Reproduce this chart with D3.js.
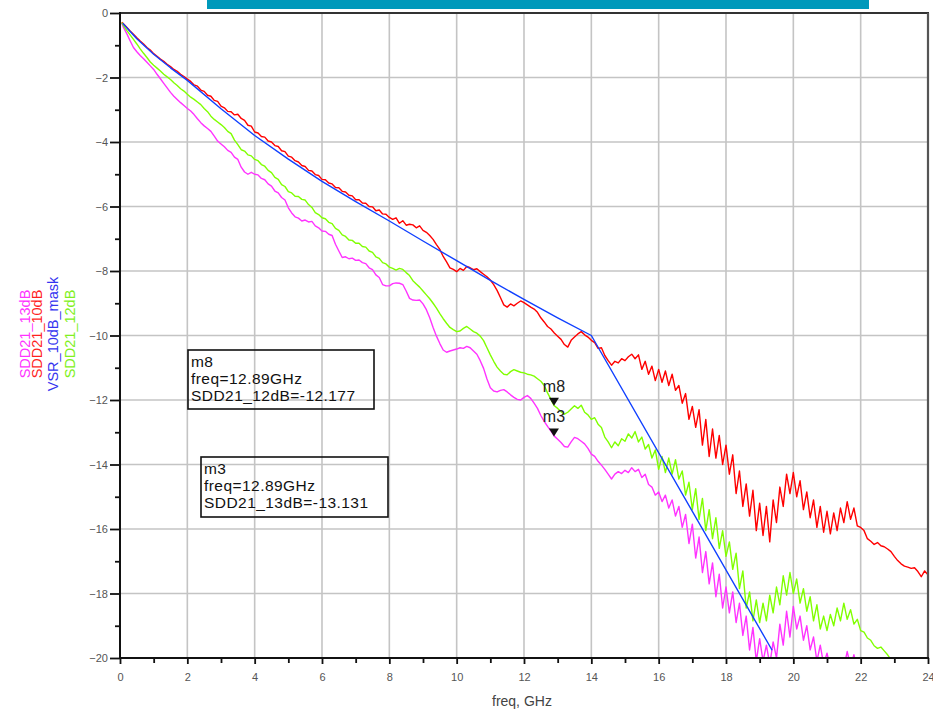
<!DOCTYPE html>
<html>
<head>
<meta charset="utf-8">
<script src="https://cdn.jsdelivr.net/npm/d3@7"></script>
<style>
  html, body { margin: 0; padding: 0; background: #fff; }
  svg { display: block; font-family: "Liberation Sans", Arial, sans-serif; }
</style>
</head>
<body>
<svg id="chart" width="933" height="715"></svg>
<script>
// Frequency sweep (GHz): first sample, then a 0.1 GHz grid up to 24 GHz
const FREQ = [0.05].concat(d3.range(1, 241).map(i => i / 10));

// SDD21_10dB channel (dB)
const SDD21_10dB = [-0.29,
  -0.33, -0.44, -0.56, -0.66, -0.77, -0.87, -0.96, -1.07, -1.15, -1.26,
  -1.34, -1.43, -1.50, -1.59, -1.66, -1.75, -1.81, -1.90, -1.97, -2.05,
  -2.12, -2.23, -2.27, -2.39, -2.43, -2.55, -2.58, -2.71, -2.74, -2.89,
  -2.94, -3.05, -3.06, -3.16, -3.14, -3.27, -3.33, -3.48, -3.51, -3.69,
  -3.72, -3.83, -3.85, -3.97, -4.00, -4.11, -4.14, -4.27, -4.30, -4.44,
  -4.47, -4.58, -4.62, -4.73, -4.76, -4.88, -4.90, -5.01, -5.04, -5.16,
  -5.17, -5.27, -5.30, -5.41, -5.42, -5.53, -5.55, -5.65, -5.67, -5.79,
  -5.79, -5.89, -5.90, -6.00, -6.01, -6.13, -6.11, -6.23, -6.24, -6.34,
  -6.40, -6.35, -6.52, -6.44, -6.58, -6.55, -6.57, -6.66, -6.60, -6.74,
  -6.80, -6.90, -7.02, -7.18, -7.33, -7.55, -7.72, -7.90, -7.95, -8.02,
  -7.92, -7.98, -7.86, -7.90, -7.96, -7.93, -8.02, -8.10, -8.18, -8.28,
  -8.42, -8.60, -8.82, -9.05, -9.12, -9.02, -9.08, -9.00, -8.93, -8.98,
  -9.05, -9.12, -9.18, -9.28, -9.45, -9.58, -9.72, -9.80, -9.92, -10.02,
  -10.12, -10.28, -10.36, -10.15, -10.05, -9.95, -9.88, -9.98, -10.05, -10.15,
  -10.22, -10.40, -10.38, -10.62, -10.78, -10.92, -10.80, -10.85, -10.72, -10.78,
  -10.66, -10.58, -10.72, -10.60, -11.05, -10.80, -11.20, -10.95, -11.40, -11.05,
  -11.45, -11.10, -11.55, -11.20, -11.70, -11.55, -12.10, -11.80, -12.60, -12.20,
  -12.85, -12.30, -13.40, -12.60, -13.75, -12.90, -13.80, -13.10, -14.00, -13.40,
  -14.30, -13.70, -14.90, -14.20, -15.30, -14.60, -15.60, -14.80, -16.05, -15.20,
  -16.20, -15.30, -16.40, -15.10, -15.80, -14.70, -15.30, -14.30, -14.90, -14.25,
  -15.00, -14.50, -15.40, -14.85, -15.65, -15.10, -15.95, -15.30, -16.10, -15.45,
  -16.15, -15.50, -16.05, -15.35, -15.80, -15.15, -15.70, -15.35, -15.90, -15.95,
  -16.05, -16.30, -16.38, -16.48, -16.42, -16.52, -16.55, -16.62, -16.70, -16.85,
  -16.98, -17.08, -17.15, -17.18, -17.22, -17.20, -17.32, -17.48, -17.30, -17.42
];

// SDD21_12dB channel (dB); null where the trace is below the plotted range
const SDD21_12dB = [-0.30,
  -0.38, -0.54, -0.68, -0.82, -0.96, -1.11, -1.25, -1.38, -1.52, -1.62,
  -1.71, -1.80, -1.90, -1.98, -2.06, -2.16, -2.25, -2.35, -2.42, -2.52,
  -2.61, -2.68, -2.76, -2.84, -2.96, -3.06, -3.20, -3.30, -3.38, -3.46,
  -3.55, -3.67, -3.74, -3.94, -4.08, -4.24, -4.28, -4.40, -4.43, -4.54,
  -4.58, -4.70, -4.75, -4.88, -4.95, -5.10, -5.16, -5.32, -5.38, -5.54,
  -5.58, -5.68, -5.69, -5.78, -5.80, -5.94, -6.03, -6.19, -6.25, -6.35,
  -6.38, -6.49, -6.53, -6.68, -6.74, -6.88, -6.93, -7.04, -7.05, -7.14,
  -7.14, -7.24, -7.26, -7.38, -7.42, -7.56, -7.61, -7.74, -7.78, -7.88,
  -7.92, -7.97, -7.92, -7.95, -8.05, -8.14, -8.30, -8.40, -8.50, -8.62,
  -8.74, -8.86, -9.00, -9.15, -9.32, -9.48, -9.62, -9.75, -9.82, -9.88,
  -9.86, -9.78, -9.72, -9.80, -9.88, -9.93, -10.02, -10.16, -10.38, -10.60,
  -10.80, -10.98, -11.10, -11.20, -11.22, -11.12, -11.06, -11.10, -11.14, -11.16,
  -11.20, -11.22, -11.26, -11.34, -11.42, -11.55, -11.78, -11.98, -12.18, -12.26,
  -12.36, -12.44, -12.38, -12.28, -12.18, -12.26, -12.16, -12.38, -12.46, -12.60,
  -12.55, -12.75, -12.85, -13.15, -13.30, -13.48, -13.30, -13.42, -13.20, -13.28,
  -13.05, -13.18, -12.98, -13.30, -13.15, -13.52, -13.38, -13.80, -13.55, -14.15,
  -13.75, -14.25, -13.80, -14.30, -13.85, -14.45, -14.20, -14.95, -14.55, -15.40,
  -14.75, -15.70, -15.05, -16.05, -15.40, -16.30, -15.65, -16.60, -16.05, -16.85,
  -16.40, -17.25, -16.75, -17.85, -17.30, -18.45, -17.95, -18.85, -18.20, -18.90,
  -18.30, -18.85, -18.05, -18.60, -17.80, -18.35, -17.45, -18.05, -17.35, -18.00,
  -17.55, -18.30, -17.85, -18.55, -18.10, -18.85, -18.35, -19.10, -18.70, -19.15,
  -18.65, -19.00, -18.45, -18.85, -18.30, -18.80, -18.50, -18.95, -18.80, -19.15,
  -19.20, -19.38, -19.45, -19.62, -19.70, -19.66, -19.78, -19.90, -20.05, -20.20,
  null, null, null, null, null, null, null, null, null, null
];

// SDD21_13dB channel (dB); null where the trace is below the plotted range
const SDD21_13dB = [-0.31,
  -0.44, -0.64, -0.86, -1.07, -1.20, -1.32, -1.42, -1.53, -1.64, -1.75,
  -1.90, -2.04, -2.18, -2.32, -2.46, -2.58, -2.68, -2.78, -2.87, -2.96,
  -3.04, -3.15, -3.28, -3.40, -3.50, -3.58, -3.67, -3.82, -3.97, -4.06,
  -4.15, -4.26, -4.32, -4.47, -4.54, -4.78, -4.93, -5.00, -4.94, -5.00,
  -5.02, -5.13, -5.17, -5.30, -5.37, -5.52, -5.58, -5.72, -5.80, -6.04,
  -6.20, -6.32, -6.36, -6.45, -6.42, -6.48, -6.46, -6.60, -6.66, -6.76,
  -6.77, -6.86, -6.90, -7.17, -7.38, -7.58, -7.56, -7.62, -7.60, -7.67,
  -7.66, -7.74, -7.77, -7.90, -7.96, -8.12, -8.20, -8.42, -8.46, -8.46,
  -8.39, -8.37, -8.38, -8.42, -8.62, -8.85, -8.90, -8.91, -8.90, -9.02,
  -9.20, -9.45, -9.75, -10.02, -10.25, -10.45, -10.52, -10.48, -10.45, -10.42,
  -10.38, -10.40, -10.34, -10.38, -10.48, -10.58, -10.78, -11.02, -11.35, -11.62,
  -11.72, -11.75, -11.70, -11.68, -11.75, -11.84, -11.92, -11.98, -12.00, -11.92,
  -11.86, -11.95, -12.10, -12.26, -12.48, -12.66, -12.82, -12.96, -13.12, -13.22,
  -13.32, -13.44, -13.46, -13.30, -13.16, -13.20, -13.28, -13.36, -13.50, -13.68,
  -13.75, -13.90, -14.02, -14.15, -14.30, -14.45, -14.30, -14.22, -14.28, -14.18,
  -14.25, -14.10, -14.22, -14.15, -14.40, -14.30, -14.62, -14.70, -14.95, -14.85,
  -15.15, -14.95, -15.35, -15.10, -15.60, -15.30, -15.95, -15.55, -16.45, -15.85,
  -16.90, -16.25, -17.35, -16.70, -17.70, -17.05, -18.10, -17.40, -18.45, -17.80,
  -18.60, -17.95, -18.90, -18.30, -19.30, -18.70, -19.75, -19.05, -20.10, -19.40,
  -20.10, -19.60, -20.20, -19.50, -20.00, -18.95, -19.60, -18.55, -19.35, -18.40,
  -19.10, -18.70, -19.45, -19.00, -19.75, -19.35, -20.10, -19.60, -20.20, -19.85,
  -20.30, -20.10, -20.40, -20.05, -20.30, -19.80, -20.25, -19.90, -20.40, -20.50,
  null, null, null, null, null, null, null, null, null, null,
  null, null, null, null, null, null, null, null, null, null
];

// VSR 10 dB insertion-loss mask: break points (GHz, dB)
const MASK_FREQ = [0.08, 0.5, 1, 1.5, 2, 3, 4, 5, 6, 7, 8, 9, 10, 11, 12, 13, 14, 19.37];
const MASK_LOSS = [-0.32, -0.80, -1.28, -1.70, -2.09, -2.97, -3.80, -4.53, -5.22, -5.85, -6.45, -7.07, -7.68, -8.29, -8.88, -9.45, -10.0, -19.76];

// Axis ranges and ticks
const X_DOMAIN = [0, 24];
const Y_DOMAIN = [0, -20];
const X_MAJOR = [0, 2, 4, 6, 8, 10, 12, 14, 16, 18, 20, 22, 24];
const X_MINOR = [1, 3, 5, 7, 9, 11, 13, 15, 17, 19, 21, 23];
const Y_MAJOR = [0, -2, -4, -6, -8, -10, -12, -14, -16, -18, -20];
const Y_MINOR = [-1, -3, -5, -7, -9, -11, -13, -15, -17, -19];

// Markers
const MARKERS = [
  { name: "m8", freq: 12.89, value: -12.177, trace: "SDD21_12dB" },
  { name: "m3", freq: 12.89, value: -13.131, trace: "SDD21_13dB" }
];

const COLORS = {
  SDD21_13dB: "#ff33ff",
  SDD21_10dB: "#ff0000",
  SDD21_12dB: "#80ff00",
  VSR_10dB_mask: "#1040ff"
};

const svg = d3.select("#chart");
const L = 120, R = 928, T = 13, B = 658;
const x = d3.scaleLinear().domain(X_DOMAIN).range([L, R]);
const y = d3.scaleLinear().domain(Y_DOMAIN).range([T, B]);

// Title band
svg.append("rect").attr("x", 207).attr("y", 0).attr("width", 662).attr("height", 9)
  .attr("fill", "#0099bb");

// Grid
const grid = svg.append("g").attr("stroke", "#c4c4c4").attr("stroke-width", 1.6);
X_MAJOR.filter(v => v > X_DOMAIN[0] && v < X_DOMAIN[1]).forEach(v => {
  grid.append("line").attr("x1", x(v)).attr("x2", x(v)).attr("y1", T).attr("y2", B);
});
Y_MAJOR.filter(v => v < 0 && v > -20).forEach(v => {
  grid.append("line").attr("x1", L).attr("x2", R).attr("y1", y(v)).attr("y2", y(v));
});

// Traces, clipped to the plot frame
svg.append("clipPath").attr("id", "plotclip").append("rect")
  .attr("x", L).attr("y", T).attr("width", R - L).attr("height", B - T);
const plot = svg.append("g").attr("clip-path", "url(#plotclip)");

const line = d3.line()
  .defined(d => d[1] != null)
  .x(d => x(d[0])).y(d => y(d[1]));

function drawTrace(freqs, vals, color) {
  plot.append("path")
    .datum(freqs.map((f, i) => [f, vals[i]]))
    .attr("fill", "none").attr("stroke", color)
    .attr("stroke-width", 1.4).attr("stroke-linejoin", "round")
    .attr("d", line);
}
drawTrace(FREQ, SDD21_13dB, COLORS.SDD21_13dB);
drawTrace(FREQ, SDD21_10dB, COLORS.SDD21_10dB);
drawTrace(FREQ, SDD21_12dB, COLORS.SDD21_12dB);
drawTrace(MASK_FREQ, MASK_LOSS, COLORS.VSR_10dB_mask);

// Frame: top and right borders
svg.append("line").attr("x1", L).attr("x2", R + 1).attr("y1", T).attr("y2", T)
  .attr("stroke", "#333").attr("stroke-width", 1.8);
svg.append("line").attr("x1", R).attr("x2", R).attr("y1", T).attr("y2", B)
  .attr("stroke", "#555").attr("stroke-width", 2.2);

// Axes
function styleAxis(g) {
  g.select(".domain").remove();
  g.selectAll(".tick line").attr("stroke", "#111").attr("stroke-width", 1.8);
  g.selectAll(".tick text").attr("fill", "#555").attr("font-size", 11)
    .attr("font-family", "Liberation Sans, Arial, sans-serif");
}
svg.append("g").attr("transform", `translate(${L},0)`)
  .call(d3.axisLeft(y).tickValues(Y_MAJOR).tickSize(10).tickPadding(2).tickFormat(d3.format("d")))
  .call(styleAxis);
svg.append("g").attr("transform", `translate(${L},0)`)
  .call(d3.axisLeft(y).tickValues(Y_MINOR).tickSize(5).tickFormat(""))
  .call(styleAxis);
svg.append("g").attr("transform", `translate(0,${B})`)
  .call(d3.axisBottom(x).tickValues(X_MAJOR).tickSize(6).tickPadding(9).tickFormat(d3.format("d")))
  .call(styleAxis);
svg.append("g").attr("transform", `translate(0,${B})`)
  .call(d3.axisBottom(x).tickValues(X_MINOR).tickSize(5).tickFormat(""))
  .call(styleAxis);

svg.append("line").attr("x1", L).attr("x2", L).attr("y1", T - 1).attr("y2", B + 1)
  .attr("stroke", "#111").attr("stroke-width", 2);
svg.append("line").attr("x1", L - 1).attr("x2", R + 1).attr("y1", B).attr("y2", B)
  .attr("stroke", "#111").attr("stroke-width", 2);

// X axis title
svg.append("text").attr("x", 492).attr("y", 706).attr("font-size", 14)
  .attr("fill", "#444").text("freq, GHz");

// Vertical legend of trace names
const legend = [
  { name: "SDD21_13dB", color: "#ff33ff", x: 29.5 },
  { name: "SDD21_10dB", color: "#ff1f1f", x: 41.5 },
  { name: "VSR_10dB_mask", color: "#3535f0", x: 58 },
  { name: "SDD21_12dB", color: "#80f020", x: 75 }
];
legend.forEach(d => {
  svg.append("text")
    .attr("transform", `translate(${d.x},334) rotate(-90)`)
    .attr("text-anchor", "middle").attr("font-size", 14.5)
    .attr("fill", d.color).text(d.name);
});

// Marker symbols and labels
MARKERS.forEach(m => {
  const px = x(m.freq), py = y(m.value);
  svg.append("path")
    .attr("d", `M${px - 5},${py - 8} L${px + 5},${py - 8} L${px},${py} Z`)
    .attr("fill", "#111");
  svg.append("text").attr("x", px).attr("y", py - 14)
    .attr("text-anchor", "middle").attr("font-size", 16).attr("fill", "#222")
    .text(m.name);
});

// Marker readout boxes
const boxes = [
  { m: MARKERS[0], x: 188, y: 350, w: 186, h: 59 },
  { m: MARKERS[1], x: 201, y: 457, w: 187, h: 60 }
];
boxes.forEach(b => {
  svg.append("rect").attr("x", b.x).attr("y", b.y).attr("width", b.w).attr("height", b.h)
    .attr("fill", "none").attr("stroke", "#111").attr("stroke-width", 1.6);
  const lines = [b.m.name, `freq=${b.m.freq}GHz`, `${b.m.trace}=${b.m.value}`];
  lines.forEach((t, i) => {
    svg.append("text").attr("x", b.x + 3).attr("y", b.y + 17 + i * 17)
      .attr("font-size", 15.5).attr("letter-spacing", 0.45)
      .attr("fill", "#111").text(t);
  });
});
</script>
</body>
</html>
